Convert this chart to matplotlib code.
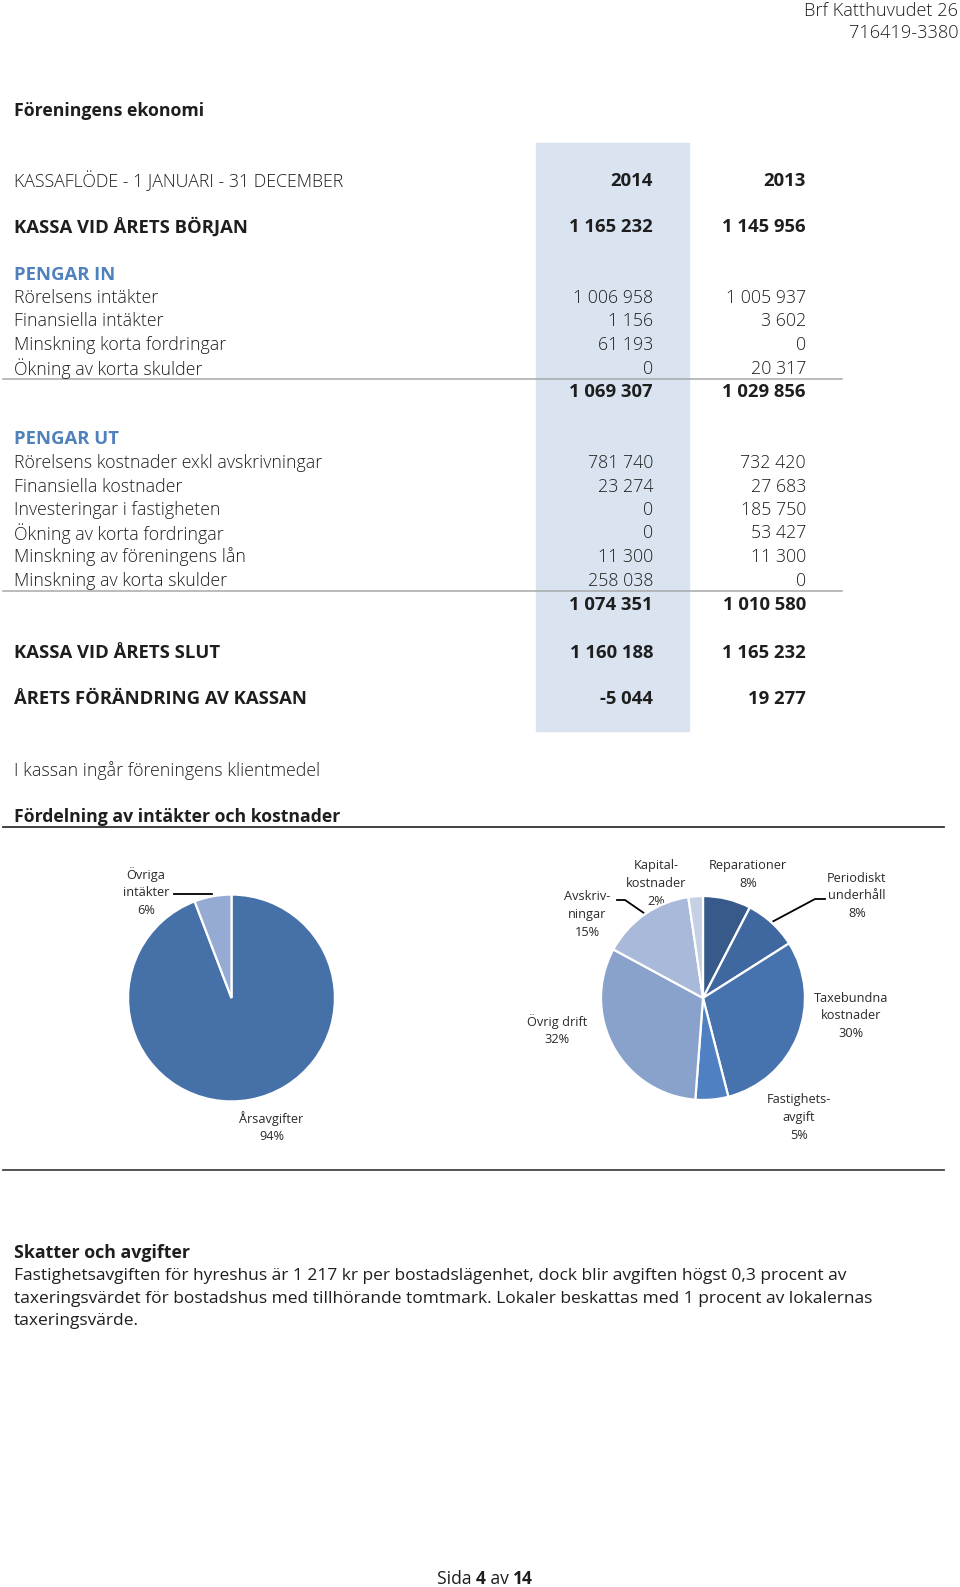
import matplotlib
matplotlib.use("Agg")
import matplotlib.pyplot as plt
import numpy as np

# ---------------- data ----------------
header_company = "Brf Katthuvudet 26"
header_orgnr = "716419-3380"
page_title = "Föreningens ekonomi"
table_title = "KASSAFLÖDE - 1 JANUARI - 31 DECEMBER"
years = ["2014", "2013"]

start_label = "KASSA VID ÅRETS BÖRJAN"
start_2014, start_2013 = 1165232, 1145956

in_title = "PENGAR IN"
in_labels = ["Rörelsens intäkter", "Finansiella intäkter",
             "Minskning korta fordringar", "Ökning av korta skulder"]
in_2014 = [1006958, 1156, 61193, 0]
in_2013 = [1005937, 3602, 0, 20317]
in_total_2014, in_total_2013 = 1069307, 1029856

out_title = "PENGAR UT"
out_labels = ["Rörelsens kostnader exkl avskrivningar", "Finansiella kostnader",
              "Investeringar i fastigheten", "Ökning av korta fordringar",
              "Minskning av föreningens lån", "Minskning av korta skulder"]
out_2014 = [781740, 23274, 0, 0, 11300, 258038]
out_2013 = [732420, 27683, 185750, 53427, 11300, 0]
out_total_2014, out_total_2013 = 1074351, 1010580

end_label = "KASSA VID ÅRETS SLUT"
end_2014, end_2013 = 1160188, 1165232
change_label = "ÅRETS FÖRÄNDRING AV KASSAN"
change_2014, change_2013 = -5044, 19277

note_text = "I kassan ingår föreningens klientmedel"
dist_title = "Fördelning av intäkter och kostnader"

income_labels = ["Årsavgifter", "Övriga\nintäkter"]
income_values = [94.2, 5.8]
income_pct = ["94%", "6%"]
income_colors = ["#4671A8", "#95ABD3"]

cost_labels = ["Reparationer", "Periodiskt\nunderhåll", "Taxebundna\nkostnader",
               "Fastighets-\navgift", "Övrig drift", "Avskriv-\nningar", "Kapital-\nkostnader"]
cost_values = [7.6, 8.4, 30.0, 5.2, 31.7, 14.8, 2.3]
cost_pct = ["8%", "8%", "30%", "5%", "32%", "15%", "2%"]
cost_colors = ["#375A8A", "#3F67A0", "#4673AE", "#4F80C1", "#88A2CC", "#A8B9D9", "#C5D0E5"]

tax_title = "Skatter och avgifter"
tax_lines = ["Fastighetsavgiften för hyreshus är 1 217 kr per bostadslägenhet, dock blir avgiften högst 0,3 procent av",
             "taxeringsvärdet för bostadshus med tillhörande tomtmark. Lokaler beskattas med 1 procent av lokalernas",
             "taxeringsvärde."]
footer_parts = [("Sida ", False), ("4", True), (" av ", False), ("14", True)]

# ---------------- setup ----------------
FONT = 'Open Sans'
plt.rcParams['font.family'] = [FONT, 'DejaVu Sans']

W, H = 960, 1587
fig = plt.figure(figsize=(W / 100, H / 100), dpi=100)
ax = fig.add_axes([0, 0, 1, 1])
ax.set_xlim(0, W)
ax.set_ylim(H, 0)
ax.axis('off')
R = fig.canvas.get_renderer()

TXT = '#1e1e1e'
BLUE = '#4F81BD'
LIGHT = 'light'
YOFF = 2.5


def width(s, fs, weight):
    tt = ax.text(0, 0, s, fontsize=fs, fontweight=weight)
    w = tt.get_window_extent(R).width
    tt.remove()
    return w


def fit(s, target, weight):
    return 10.0 * target / width(s, 10.0, weight)


FS_REG = fit("Rörelsens kostnader exkl avskrivningar", 307, LIGHT)
FS_BOLD = fit(change_label, 293, 'bold')
FS_PARA = fit(tax_lines[0], 832, 'normal')
FS_HEAD = fit(header_company, 154, LIGHT)
FS_PIE = fit("Reparationer", 78, 'normal')
FS_FOOT = fit("Sida 4 av 14", 97, 'normal')
FS_H1 = fit(page_title, 191, 'bold')
FS_H2 = fit(dist_title, 328, 'bold')
FS_H3 = fit(tax_title, 176, 'bold')


def fmt(v):
    s = f"{abs(v):,}".replace(",", " ")
    return ("-" if v < 0 else "") + s


def t(x, y, s, ha='left', fs=FS_REG, weight=LIGHT, color=TXT):
    ax.text(x, y + YOFF, s, ha=ha, va='center', fontsize=fs, fontweight=weight, color=color)


# header
t(958, 9, header_company, ha='right', fs=FS_HEAD)
t(958, 31, header_orgnr, ha='right', fs=FS_HEAD)
t(14, 108, page_title, fs=FS_H1, weight='bold')

# shaded column
ax.add_patch(plt.Rectangle((536, 143), 153, 588, color='#DAE4F1', zorder=0))

X1, X2, XL = 653, 806, 14
B = 'bold'
t(XL, 178, table_title)
t(X1, 178, years[0], ha='right', fs=FS_BOLD, weight=B)
t(X2, 178, years[1], ha='right', fs=FS_BOLD, weight=B)

t(XL, 225, start_label, fs=FS_BOLD, weight=B)
t(X1, 225, fmt(start_2014), ha='right', fs=FS_BOLD, weight=B)
t(X2, 225, fmt(start_2013), ha='right', fs=FS_BOLD, weight=B)

dy = 23.5
y0 = 272
t(XL, y0, in_title, fs=FS_BOLD, weight=B, color=BLUE)
for i, lab in enumerate(in_labels):
    yy = y0 + dy * (i + 1)
    t(XL, yy, lab)
    t(X1, yy, fmt(in_2014[i]), ha='right')
    t(X2, yy, fmt(in_2013[i]), ha='right')
ax.plot([3, 842], [378.5, 378.5], color='#A8A8A8', lw=1.1)
t(X1, 389.5, fmt(in_total_2014), ha='right', fs=FS_BOLD, weight=B)
t(X2, 389.5, fmt(in_total_2013), ha='right', fs=FS_BOLD, weight=B)

y0 = 437
t(XL, y0, out_title, fs=FS_BOLD, weight=B, color=BLUE)
for i, lab in enumerate(out_labels):
    yy = y0 + dy * (i + 1)
    t(XL, yy, lab)
    t(X1, yy, fmt(out_2014[i]), ha='right')
    t(X2, yy, fmt(out_2013[i]), ha='right')
ax.plot([3, 842], [591, 591], color='#A8A8A8', lw=1.1)
t(X1, 603, fmt(out_total_2014), ha='right', fs=FS_BOLD, weight=B)
t(X2, 603, fmt(out_total_2013), ha='right', fs=FS_BOLD, weight=B)

t(XL, 650, end_label, fs=FS_BOLD, weight=B)
t(X1, 650, fmt(end_2014), ha='right', fs=FS_BOLD, weight=B)
t(X2, 650, fmt(end_2013), ha='right', fs=FS_BOLD, weight=B)
t(XL, 697, change_label, fs=FS_BOLD, weight=B)
t(X1, 697, fmt(change_2014), ha='right', fs=FS_BOLD, weight=B)
t(X2, 697, fmt(change_2013), ha='right', fs=FS_BOLD, weight=B)

t(XL, 768, note_text)
t(XL, 814, dist_title, fs=FS_H2, weight=B)
ax.plot([3, 944], [826.5, 826.5], color='#333333', lw=1.3)
ax.plot([3, 944], [1169.5, 1169.5], color='#444444', lw=1.3)


# ---------------- pies ----------------
def pie_axes(cx, cy, r):
    return fig.add_axes([(cx - r) / W, (H - (cy + r)) / H, 2 * r / W, 2 * r / H])


def edge_point(cx, cy, r, values, idx, frac=1.0):
    cum = np.cumsum([0] + list(values))
    mid = (cum[idx] + values[idx] / 2) / cum[-1] * 2 * np.pi
    return cx + r * frac * np.sin(mid), cy - r * frac * np.cos(mid)


def pie_label(x, ytop, text, pitch=17.6):
    for k, line in enumerate(text.split("\n")):
        t(x, ytop + k * pitch - 0.5, line, ha='center', fs=FS_PIE, weight='normal', color='#2a2a2a')


wp = dict(edgecolor='white', linewidth=1.6)
# income pie
c1 = (231.5, 998, 105.5)
pa = pie_axes(*c1)
pa.pie(income_values, colors=income_colors, startangle=90, counterclock=False, wedgeprops=wp)
pa.set_xlim(-1.02, 1.02); pa.set_ylim(-1.02, 1.02)
pa.axis('off')

pie_label(271.5, 1117, income_labels[0] + "\n" + income_pct[0])
pie_label(146, 873, income_labels[1] + "\n" + income_pct[1])
ex, ey = edge_point(*c1, income_values, 1)
ax.plot([174, ex], [894, 894], color='black', lw=1.3)

# cost pie
c2 = (703, 998, 104)
pb = pie_axes(*c2)
pb.pie(cost_values, colors=cost_colors, startangle=90, counterclock=False, wedgeprops=wp)
pb.set_xlim(-1.02, 1.02); pb.set_ylim(-1.02, 1.02)
pb.axis('off')

cost_pos = [(748, 864), (857, 876), (851, 996), (799, 1098),
            (557, 1020), (587, 895), (656, 864)]
for lab, pct, (lx, ly) in zip(cost_labels, cost_pct, cost_pos):
    pie_label(lx, ly, lab + "\n" + pct)

px, py = edge_point(*c2, cost_values, 1)
ax.plot([825, 815, px], [899, 899, py], color='black', lw=1.3)
qx, qy = edge_point(*c2, cost_values, 5)
ax.plot([617, 625, qx], [900, 900, qy], color='black', lw=1.3)

# ---------------- text block ----------------
t(XL, 1250, tax_title, fs=FS_H3, weight=B)
for i, line in enumerate(tax_lines):
    t(XL, 1274 + 22.3 * i, line, fs=FS_PARA, weight='normal')

# footer
x = 437
for s, b in footer_parts:
    wgt = 'bold' if b else 'normal'
    ax.text(x, 1576 + YOFF, s, ha='left', va='center', fontsize=FS_FOOT, fontweight=wgt, color=TXT)
    x += width(s, FS_FOOT, wgt)

fig.savefig("out.png", dpi=100)
